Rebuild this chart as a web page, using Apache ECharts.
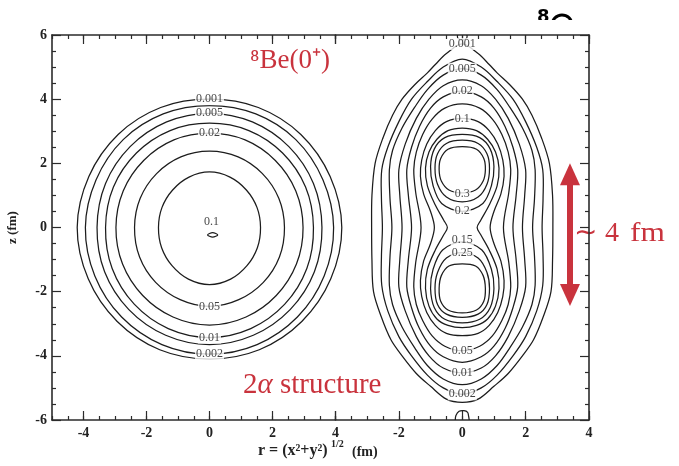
<!DOCTYPE html>
<html><head><meta charset="utf-8">
<script src="https://cdn.jsdelivr.net/npm/echarts@6/dist/echarts.min.js"></script>
<style>html,body{margin:0;padding:0;background:#fff}#chart{width:679px;height:466px}</style>
</head><body><div id="chart"></div>
<script>
// ---------- tick labels ----------
const X_LABELS_LEFT = [-4, -2, 0, 2, 4];
const X_LABELS_RIGHT = [-2, 0, 2, 4];
const X_LONG_TICKS_LEFT = [-4, -2, 0, 2, 4];
const X_LONG_TICKS_RIGHT = [-4, -2, 0, 2, 4];

// ---------- left panel (8Be 0+) contours: right halves [r, z], mirrored to r<0 ----------
const LEFT_0001 = [[0,4.0],[1.55,3.74],[2.9,2.9],[3.83,1.59],[4.2,0],[3.85,-1.6],[2.93,-2.93],[1.58,-3.81],[0,-4.1]];
const LEFT_0002 = [[0,3.8],[1.47,3.54],[2.74,2.74],[3.6,1.49],[3.94,0],[3.64,-1.51],[2.79,-2.79],[1.51,-3.65],[0,-3.95]];
const LEFT_0005 = [[0,3.56],[1.36,3.29],[2.52,2.52],[3.3,1.37],[3.57,0],[3.33,-1.38],[2.56,-2.56],[1.39,-3.36],[0,-3.65]];
const LEFT_001  = [[0,3.25],[1.25,3.02],[2.32,2.32],[3.05,1.26],[3.3,0],[3.09,-1.28],[2.39,-2.39],[1.31,-3.15],[0,-3.43]];
const LEFT_002  = [[0,2.94],[1.13,2.73],[2.09,2.09],[2.74,1.14],[2.97,0],[2.76,-1.14],[2.12,-2.12],[1.16,-2.79],[0,-3.04]];
const LEFT_005  = [[0,2.38],[0.91,2.2],[1.68,1.68],[2.2,0.91],[2.38,0],[2.22,-0.92],[1.71,-1.71],[0.93,-2.25],[0,-2.46]];
const LEFT_008  = [[0,1.73],[0.65,1.57],[1.17,1.17],[1.51,0.62],[1.62,0],[1.52,-0.63],[1.19,-1.19],[0.67,-1.61],[0,-1.78]];
const LEFT_01_LOOP = [[-0.06,-0.23],[0.1,-0.16],[0.26,-0.23],[0.1,-0.3]];
const LEFT_LABELS = [[0,4.0,'0.001'],[0,3.56,'0.005'],[0,2.94,'0.02'],[0.06,0.19,'0.1'],[0,-2.46,'0.05'],[0,-3.43,'0.01'],[0,-3.95,'0.002']];

// ---------- right panel (2-alpha) contours ----------
const RIGHT_0001 = [[0,5.72],[0.5,5.42],[0.85,5.08],[1.1,4.82],[1.5,4.45],[1.9,4.0],[2.2,3.5],[2.5,2.8],[2.75,2.0],[2.85,1.0],[2.86,0],[2.85,-1.0],[2.8,-2.0],[2.55,-2.8],[2.25,-3.5],[1.9,-4.0],[1.45,-4.55],[1.0,-4.95],[0.5,-5.35],[0,-5.45]];
const RIGHT_0002 = [[0,5.25],[0.6,5.0],[1.1,4.55],[1.6,4.0],[2.0,3.3],[2.35,2.5],[2.54,1.8],[2.55,0.9],[2.52,0],[2.55,-0.9],[2.54,-1.8],[2.35,-2.6],[2.0,-3.4],[1.6,-4.0],[1.1,-4.6],[0.6,-5.0],[0,-5.2]];
const RIGHT_0005 = [[0,4.95],[0.6,4.75],[1.1,4.3],[1.5,3.75],[1.9,3.1],[2.2,2.4],[2.3,1.8],[2.28,0.9],[2.22,0],[2.28,-0.9],[2.3,-1.8],[2.2,-2.4],[1.9,-3.1],[1.5,-3.75],[1.1,-4.3],[0.6,-4.72],[0,-4.9]];
const RIGHT_001  = [[0,4.6],[0.6,4.42],[1.05,4.0],[1.45,3.4],[1.8,2.6],[2.0,1.8],[1.97,1.0],[1.9,0],[1.97,-1.0],[2.0,-1.85],[1.8,-2.6],[1.45,-3.4],[1.05,-4.0],[0.6,-4.38],[0,-4.53]];
const RIGHT_002  = [[0,4.25],[0.6,4.07],[1.0,3.72],[1.35,3.15],[1.6,2.5],[1.75,1.8],[1.7,1.0],[1.6,0],[1.7,-1.0],[1.75,-1.85],[1.6,-2.5],[1.35,-3.15],[1.0,-3.7],[0.6,-4.03],[0,-4.2]];
const RIGHT_005  = [[0,3.85],[0.55,3.72],[0.95,3.38],[1.25,2.9],[1.45,2.35],[1.53,1.8],[1.47,1.1],[1.3,0],[1.47,-1.1],[1.53,-1.85],[1.45,-2.4],[1.25,-2.9],[0.95,-3.38],[0.55,-3.7],[0,-3.84]];
const RIGHT_01   = [[0,3.4],[0.5,3.3],[0.85,3.02],[1.12,2.6],[1.28,2.1],[1.32,1.6],[1.22,1.05],[1.0,0.5],[0.88,0],[1.0,-0.5],[1.22,-1.05],[1.32,-1.65],[1.28,-2.15],[1.12,-2.65],[0.85,-3.05],[0.5,-3.3],[0,-3.37]];
const RIGHT_015  = [[0,3.1],[0.45,3.02],[0.8,2.75],[1.05,2.35],[1.16,1.85],[1.1,1.3],[0.85,0.7],[0.58,0.22],[0.47,0],[0.58,-0.22],[0.85,-0.7],[1.1,-1.3],[1.16,-1.9],[1.05,-2.45],[0.8,-2.85],[0.45,-3.05],[0,-3.12]];
const TOP_02  = [[0,2.9],[0.55,2.8],[0.88,2.45],[1.0,1.9],[0.92,1.3],[0.65,0.75],[0,0.5]];
const TOP_025 = [[0,2.72],[0.5,2.62],[0.78,2.3],[0.86,1.85],[0.78,1.35],[0.5,0.95],[0,0.8]];
const TOP_03  = [[0,2.52],[0.45,2.44],[0.68,2.15],[0.73,1.8],[0.66,1.45],[0.42,1.17],[0,1.08]];
const BOT_02  = [[0,-0.45],[0.62,-0.7],[0.92,-1.3],[1.0,-1.9],[0.88,-2.5],[0.55,-2.86],[0,-2.97]];
const BOT_025 = [[0,-0.78],[0.5,-0.95],[0.78,-1.4],[0.86,-1.9],[0.78,-2.4],[0.5,-2.7],[0,-2.8]];
const BOT_03  = [[0,-1.13],[0.42,-1.2],[0.66,-1.5],[0.73,-1.9],[0.68,-2.3],[0.45,-2.57],[0,-2.66]];
const TOP_ISLAND = [[-0.15,6],[-0.14,5.9],[0,5.84],[0.14,5.9],[0.15,6]];
const BOTTOM_ISLAND = [[-0.22,-6],[-0.2,-5.86],[-0.1,-5.73],[0.05,-5.71],[0.17,-5.76],[0.2,-5.88],[0.22,-6]];
const RIGHT_LABELS = [[0,5.72,'0.001'],[0,4.95,'0.005'],[0,4.25,'0.02'],[0,3.4,'0.1'],[0,1.06,'0.3'],[0,0.53,'0.2'],[0,-0.4,'0.15'],[0,-0.78,'0.25'],[0,-3.84,'0.05'],[0,-4.53,'0.01'],[0,-5.2,'0.002']];
const ARROW_R = 3.4, ARROW_Z = [1.66, -2.1];

// ---------- build ----------
function mirrorLoop(half) {
  const back = half.slice(1, -1).reverse().map(p => [-p[0], p[1]]);
  return half.concat(back);
}
const leftShapes = [LEFT_0001, LEFT_0002, LEFT_0005, LEFT_001, LEFT_002, LEFT_005, LEFT_008]
  .map(h => ({ pts: mirrorLoop(h), closed: true }))
  .concat([{ pts: LEFT_01_LOOP, closed: true }]);
const rightShapes = [RIGHT_0001, RIGHT_0002, RIGHT_0005, RIGHT_001, RIGHT_002, RIGHT_005, RIGHT_01, RIGHT_015,
  TOP_02, TOP_025, TOP_03, BOT_02, BOT_025, BOT_03]
  .map(h => ({ pts: mirrorLoop(h), closed: true }))
  .concat([{ pts: TOP_ISLAND, closed: false }, { pts: BOTTOM_ISLAND, closed: false }]);

function contourSeries(list, xi, yi) {
  return {
    type: 'custom', xAxisIndex: xi, yAxisIndex: yi, clip: false, silent: true, z: 3,
    data: list.map(() => [0, 0]),
    renderItem: (params, api) => {
      const c = list[params.dataIndex];
      return {
        type: c.closed ? 'polygon' : 'polyline',
        shape: { points: c.pts.map(p => api.coord(p)), smooth: 0.33 },
        style: { fill: 'none', stroke: '#1c1c1c', lineWidth: 1.25 }
      };
    }
  };
}
function labelSeries(list, xi, yi, extra) {
  return Object.assign({
    type: 'scatter', xAxisIndex: xi, yAxisIndex: yi, symbolSize: 1, silent: true, z: 6,
    itemStyle: { color: 'rgba(0,0,0,0)' },
    data: list.map(l => ({ value: [l[0], l[1]], name: l[2] })),
    label: { show: true, position: 'inside', formatter: '{b}', fontFamily: 'Liberation Serif',
      fontSize: 12, color: '#111', backgroundColor: '#fff', padding: [0, 1] }
  }, extra || {});
}

const FRAME = { color: '#2b2b2b', width: 1.6 };
const TICK = { color: '#2b2b2b', width: 1.2 };
const TICKFONT = { fontFamily: 'Liberation Serif', fontWeight: 'bold', fontSize: 14, color: '#222' };
function mainX(gi, min, max, pos, longTicks, labels) {
  return { type: 'value', gridIndex: gi, min, max, interval: 1, position: pos,
    axisLine: { show: true, onZero: false, lineStyle: FRAME },
    axisTick: { show: true, inside: true, length: 9, customValues: longTicks, lineStyle: TICK },
    axisLabel: labels ? Object.assign({ show: true, customValues: labels, margin: 6 }, TICKFONT) : { show: false },
    splitLine: { show: false } };
}
function shortX(gi, min, max, pos) {
  return { type: 'value', gridIndex: gi, min, max, interval: 0.5, position: pos,
    axisLine: { show: false, onZero: false },
    axisTick: { show: true, inside: true, length: 4, lineStyle: TICK },
    axisLabel: { show: false }, splitLine: { show: false } };
}
function mainY(gi, pos, labels) {
  return { type: 'value', gridIndex: gi, min: -6, max: 6, interval: 2, position: pos,
    axisLine: { show: true, onZero: false, lineStyle: FRAME },
    axisTick: { show: true, inside: true, length: 9, lineStyle: TICK },
    minorTick: { show: true, splitNumber: 4, length: 4, lineStyle: TICK },
    axisLabel: labels ? Object.assign({ show: true, margin: 5 }, TICKFONT) : { show: false },
    splitLine: { show: false }, minorSplitLine: { show: false } };
}
const G0 = { left: 52, top: 35, width: 283.5, height: 385 };
const G1 = { left: 335.5, top: 35, width: 253.5, height: 385 };
const RED = '#c9333d';

const option = {
  animation: false,
  backgroundColor: '#fff',
  grid: [G0, G1, G0, G1],
  xAxis: [
    mainX(0, -5, 4, 'bottom', X_LONG_TICKS_LEFT, X_LABELS_LEFT),
    mainX(0, -5, 4, 'top', X_LONG_TICKS_LEFT, null),
    mainX(1, -4, 4, 'bottom', X_LONG_TICKS_RIGHT, X_LABELS_RIGHT),
    mainX(1, -4, 4, 'top', X_LONG_TICKS_RIGHT, null),
    shortX(2, -5, 4, 'bottom'), shortX(2, -5, 4, 'top'),
    shortX(3, -4, 4, 'bottom'), shortX(3, -4, 4, 'top')
  ],
  yAxis: [
    Object.assign(mainY(0, 'left', true), { name: 'z (fm)', nameLocation: 'middle', nameGap: 33,
      nameRotate: 90, nameTextStyle: { fontFamily: 'Liberation Serif', fontWeight: 'bold', fontSize: 13, color: '#222' } }),
    mainY(1, 'right', false),
    { type: 'value', gridIndex: 2, min: -6, max: 6, show: false },
    { type: 'value', gridIndex: 3, min: -6, max: 6, show: false }
  ],
  series: [
    contourSeries(leftShapes, 0, 0),
    contourSeries(rightShapes, 2, 1),
    labelSeries(LEFT_LABELS, 0, 0),
    labelSeries(RIGHT_LABELS, 2, 1, {
      markLine: { silent: true, symbol: ['triangle', 'triangle'], symbolSize: [20, 22],
        label: { show: false }, lineStyle: { color: RED, width: 6, type: 'solid' },
        emphasis: { disabled: true },
        data: [[{ coord: [ARROW_R, ARROW_Z[0]] }, { coord: [ARROW_R, ARROW_Z[1]] }]] }
    })
  ],
  graphic: [
    { type: 'text', left: 250, top: 47, style: { text: '⁸Be(0⁺)', font: '27px "Liberation Serif"', fill: RED } },
    { type: 'text', left: 243, top: 371, style: { text: '{n|2}{i|α}{n| structure}',
      rich: { n: { fontFamily: 'Liberation Serif', fontSize: 29, fill: RED },
              i: { fontFamily: 'Liberation Serif', fontSize: 29, fontStyle: 'italic', fill: RED } } } },
    { type: 'text', left: 574, top: 220, style: { text: '∼', font: '28px "Liberation Serif"', fill: RED } },
    { type: 'text', left: 605, top: 220, style: { text: '4', font: '28px "Liberation Serif"', fill: RED } },
    { type: 'text', left: 630, top: 220, scaleX: 1.12, style: { text: 'fm', font: '28px "Liberation Serif"', fill: RED } },
    { type: 'text', left: 258, top: 443, style: { text: 'r = (x²+y²)', font: 'bold 16px "Liberation Serif"', fill: '#222' } },
    { type: 'text', left: 331, top: 439, style: { text: '1/2', font: 'bold 10px "Liberation Serif"', fill: '#222' } },
    { type: 'text', left: 352, top: 445, style: { text: '(fm)', font: 'bold 14px "Liberation Serif"', fill: '#222' } },
    { type: 'text', left: 537, top: 8, style: { text: '8', font: 'bold 18px "DejaVu Sans"', fill: '#000' } },
    { type: 'arc', shape: { cx: 562, cy: 25, r: 10, startAngle: Math.PI * 1.12, endAngle: Math.PI * 1.88 },
      style: { stroke: '#000', lineWidth: 3, fill: 'none' } },
    { type: 'rect', shape: { x: 525, y: 20, width: 60, height: 14 }, style: { fill: '#fff' }, z: 100 }
  ]
};
const chart = echarts.init(document.getElementById('chart'), null, { renderer: 'canvas' });
chart.setOption(option);
</script></body></html>
